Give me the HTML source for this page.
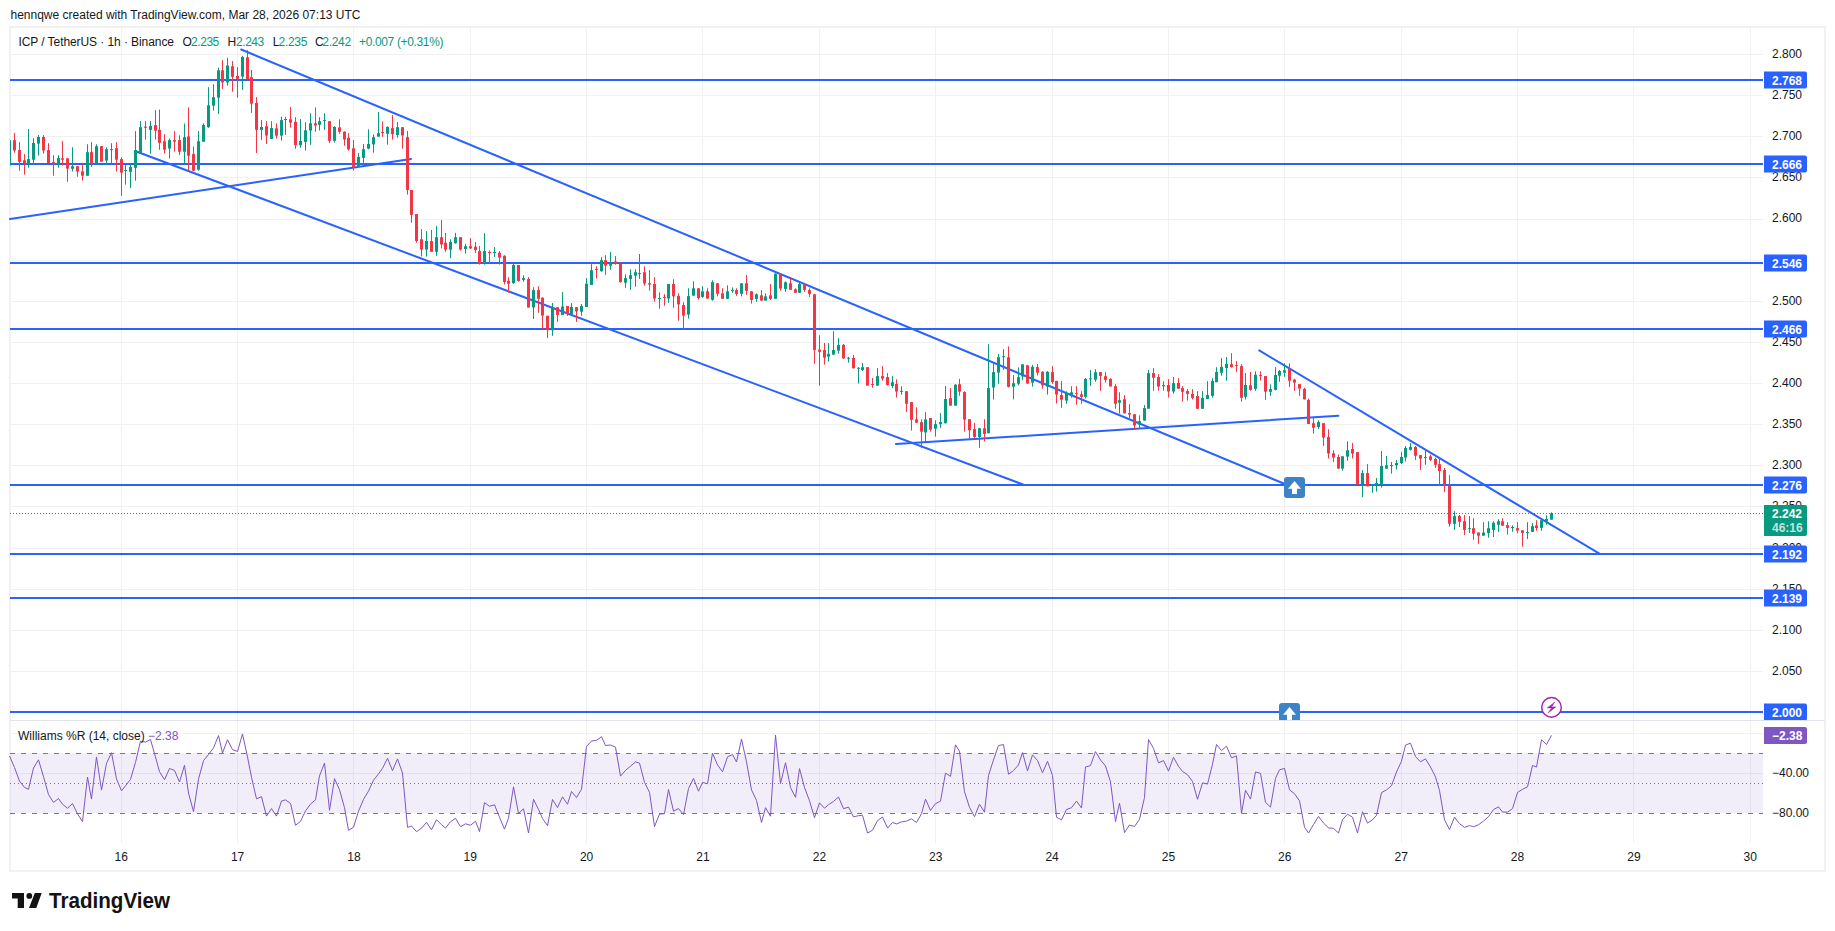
<!DOCTYPE html><html><head><meta charset="utf-8"><style>
html,body{margin:0;padding:0;background:#fff;width:1835px;height:931px;overflow:hidden}
svg{display:block}
text{font-family:'Liberation Sans', sans-serif}
</style></head><body>
<svg width="1835" height="931" viewBox="0 0 1835 931">

<text x="10.5" y="19" font-size="12" fill="#131722">hennqwe created with TradingView.com, Mar 28, 2026 07:13 UTC</text>
<rect x="10" y="27" width="1815" height="844" fill="none" stroke="#f1f1f2" stroke-width="2"/>
<path d="M10 54.5H1763 M10 95.5H1763 M10 136.5H1763 M10 177.5H1763 M10 219.5H1763 M10 260.5H1763 M10 301.5H1763 M10 342.5H1763 M10 383.5H1763 M10 424.5H1763 M10 465.5H1763 M10 506.5H1763 M10 548.5H1763 M10 589.5H1763 M10 630.5H1763 M10 671.5H1763 M10 712.5H1763 M10 733.5H1763 M10 773.5H1763 M121.5 27V843 M237.5 27V843 M353.5 27V843 M470.5 27V843 M586.5 27V843 M702.5 27V843 M819.5 27V843 M935.5 27V843 M1052.5 27V843 M1168.5 27V843 M1284.5 27V843 M1401.5 27V843 M1517.5 27V843 M1633.5 27V843 M1750.5 27V843" stroke="#f0f1f2" stroke-width="1" fill="none"/>
<path d="M10 720.5H1825" stroke="#e0e3eb" stroke-width="1"/>
<text x="1772" y="57.9" font-size="12" fill="#131722">2.800</text><text x="1772" y="99.0" font-size="12" fill="#131722">2.750</text><text x="1772" y="140.2" font-size="12" fill="#131722">2.700</text><text x="1772" y="181.3" font-size="12" fill="#131722">2.650</text><text x="1772" y="222.4" font-size="12" fill="#131722">2.600</text><text x="1772" y="263.6" font-size="12" fill="#131722">2.550</text><text x="1772" y="304.7" font-size="12" fill="#131722">2.500</text><text x="1772" y="345.8" font-size="12" fill="#131722">2.450</text><text x="1772" y="387.0" font-size="12" fill="#131722">2.400</text><text x="1772" y="428.1" font-size="12" fill="#131722">2.350</text><text x="1772" y="469.3" font-size="12" fill="#131722">2.300</text><text x="1772" y="510.4" font-size="12" fill="#131722">2.250</text><text x="1772" y="551.5" font-size="12" fill="#131722">2.200</text><text x="1772" y="592.7" font-size="12" fill="#131722">2.150</text><text x="1772" y="633.8" font-size="12" fill="#131722">2.100</text><text x="1772" y="674.9" font-size="12" fill="#131722">2.050</text>
<path d="M10 80H1763" stroke="#2962ff" stroke-width="2"/>
<path d="M10 164H1763" stroke="#2962ff" stroke-width="2"/>
<path d="M10 263H1763" stroke="#2962ff" stroke-width="2"/>
<path d="M10 329H1763" stroke="#2962ff" stroke-width="2"/>
<path d="M10 485H1763" stroke="#2962ff" stroke-width="2"/>
<path d="M10 554H1763" stroke="#2962ff" stroke-width="2"/>
<path d="M10 598H1763" stroke="#2962ff" stroke-width="2"/>
<path d="M10 712H1763" stroke="#2962ff" stroke-width="2"/>
<path d="M241.2 49.5L1283.7 483.5" stroke="#2962ff" stroke-width="2" stroke-linecap="round"/>
<path d="M135 151L1023 484.5" stroke="#2962ff" stroke-width="2" stroke-linecap="round"/>
<path d="M10 219L411 159" stroke="#2962ff" stroke-width="2" stroke-linecap="round"/>
<path d="M896 444.1L1338.4 415.7" stroke="#2962ff" stroke-width="2" stroke-linecap="round"/>
<path d="M1259.2 350.4L1599 553.4" stroke="#2962ff" stroke-width="2" stroke-linecap="round"/>
<clipPath id="ca"><rect x="10" y="28" width="1753" height="692"/></clipPath><g clip-path="url(#ca)"><rect x="9" y="140.2" width="1" height="25.4" fill="#089981"/><rect x="8" y="140.2" width="3" height="25.4" fill="#089981"/><rect x="14" y="132.9" width="1" height="19.8" fill="#f23645"/><rect x="13" y="140.2" width="3" height="10.3" fill="#f23645"/><rect x="19" y="142.2" width="1" height="28.5" fill="#f23645"/><rect x="18" y="150.1" width="3" height="11.8" fill="#f23645"/><rect x="24" y="154.2" width="1" height="20.4" fill="#f23645"/><rect x="23" y="160.2" width="3" height="2.8" fill="#f23645"/><rect x="28" y="129.0" width="1" height="38.7" fill="#089981"/><rect x="27" y="159.1" width="3" height="4.7" fill="#089981"/><rect x="33" y="138.1" width="1" height="26.6" fill="#089981"/><rect x="32" y="143.0" width="3" height="16.7" fill="#089981"/><rect x="38" y="135.0" width="1" height="20.6" fill="#089981"/><rect x="37" y="137.0" width="3" height="6.6" fill="#089981"/><rect x="43" y="135.0" width="1" height="18.5" fill="#f23645"/><rect x="42" y="137.0" width="3" height="13.5" fill="#f23645"/><rect x="48" y="143.2" width="1" height="19.8" fill="#f23645"/><rect x="47" y="150.1" width="3" height="12.9" fill="#f23645"/><rect x="53" y="155.2" width="1" height="20.5" fill="#f23645"/><rect x="52" y="162.1" width="3" height="2.1" fill="#f23645"/><rect x="58" y="155.2" width="1" height="12.5" fill="#089981"/><rect x="57" y="158.1" width="3" height="6.2" fill="#089981"/><rect x="62" y="141.1" width="1" height="24.5" fill="#f23645"/><rect x="61" y="158.3" width="3" height="1.5" fill="#f23645"/><rect x="67" y="158.3" width="1" height="23.5" fill="#f23645"/><rect x="66" y="158.3" width="3" height="10.3" fill="#f23645"/><rect x="72" y="147.3" width="1" height="24.2" fill="#089981"/><rect x="71" y="166.2" width="3" height="2.6" fill="#089981"/><rect x="77" y="166.2" width="1" height="10.5" fill="#f23645"/><rect x="76" y="166.2" width="3" height="5.3" fill="#f23645"/><rect x="82" y="164.3" width="1" height="16.3" fill="#f23645"/><rect x="81" y="171.4" width="3" height="4.3" fill="#f23645"/><rect x="87" y="144.3" width="1" height="31.4" fill="#089981"/><rect x="86" y="152.2" width="3" height="23.5" fill="#089981"/><rect x="91" y="142.2" width="1" height="24.7" fill="#f23645"/><rect x="90" y="152.2" width="3" height="11.6" fill="#f23645"/><rect x="96" y="144.3" width="1" height="19.9" fill="#089981"/><rect x="95" y="146.2" width="3" height="18.1" fill="#089981"/><rect x="101" y="146.2" width="1" height="15.5" fill="#f23645"/><rect x="100" y="146.2" width="3" height="15.5" fill="#f23645"/><rect x="106" y="147.3" width="1" height="17.4" fill="#089981"/><rect x="105" y="149.2" width="3" height="11.3" fill="#089981"/><rect x="111" y="143.2" width="1" height="20.2" fill="#089981"/><rect x="110" y="149.1" width="3" height="1.0" fill="#089981"/><rect x="116" y="142.2" width="1" height="29.4" fill="#f23645"/><rect x="115" y="148.2" width="3" height="11.5" fill="#f23645"/><rect x="121" y="157.4" width="1" height="38.3" fill="#f23645"/><rect x="120" y="159.1" width="3" height="13.5" fill="#f23645"/><rect x="125" y="164.7" width="1" height="19.9" fill="#089981"/><rect x="124" y="169.9" width="3" height="1.0" fill="#089981"/><rect x="130" y="163.8" width="1" height="24.2" fill="#089981"/><rect x="129" y="167.0" width="3" height="4.8" fill="#089981"/><rect x="135" y="131.1" width="1" height="49.6" fill="#089981"/><rect x="134" y="150.1" width="3" height="17.7" fill="#089981"/><rect x="140" y="121.1" width="1" height="32.6" fill="#089981"/><rect x="139" y="127.2" width="3" height="25.8" fill="#089981"/><rect x="145" y="121.1" width="1" height="18.5" fill="#f23645"/><rect x="144" y="126.7" width="3" height="1.1" fill="#f23645"/><rect x="150" y="121.1" width="1" height="32.6" fill="#089981"/><rect x="149" y="125.9" width="3" height="4.0" fill="#089981"/><rect x="155" y="110.1" width="1" height="29.5" fill="#f23645"/><rect x="154" y="125.1" width="3" height="5.6" fill="#f23645"/><rect x="159" y="109.5" width="1" height="40.3" fill="#f23645"/><rect x="158" y="129.9" width="3" height="12.9" fill="#f23645"/><rect x="164" y="134.3" width="1" height="19.3" fill="#f23645"/><rect x="163" y="141.2" width="3" height="8.5" fill="#f23645"/><rect x="169" y="138.5" width="1" height="20.0" fill="#089981"/><rect x="168" y="140.1" width="3" height="8.4" fill="#089981"/><rect x="174" y="131.1" width="1" height="20.6" fill="#f23645"/><rect x="173" y="140.1" width="3" height="1.6" fill="#f23645"/><rect x="179" y="135.3" width="1" height="19.7" fill="#f23645"/><rect x="178" y="140.1" width="3" height="11.6" fill="#f23645"/><rect x="184" y="123.5" width="1" height="41.1" fill="#089981"/><rect x="183" y="137.2" width="3" height="14.5" fill="#089981"/><rect x="188" y="107.4" width="1" height="62.9" fill="#f23645"/><rect x="187" y="136.4" width="3" height="19.3" fill="#f23645"/><rect x="193" y="146.5" width="1" height="24.8" fill="#f23645"/><rect x="192" y="154.1" width="3" height="16.6" fill="#f23645"/><rect x="198" y="131.1" width="1" height="39.6" fill="#089981"/><rect x="197" y="141.2" width="3" height="28.5" fill="#089981"/><rect x="203" y="123.5" width="1" height="18.2" fill="#089981"/><rect x="202" y="125.1" width="3" height="16.6" fill="#089981"/><rect x="208" y="87.2" width="1" height="40.6" fill="#089981"/><rect x="207" y="105.3" width="3" height="21.9" fill="#089981"/><rect x="213" y="84.3" width="1" height="26.3" fill="#089981"/><rect x="212" y="97.2" width="3" height="8.5" fill="#089981"/><rect x="218" y="67.6" width="1" height="46.3" fill="#089981"/><rect x="217" y="70.3" width="3" height="27.4" fill="#089981"/><rect x="222" y="60.2" width="1" height="28.7" fill="#f23645"/><rect x="221" y="70.3" width="3" height="12.1" fill="#f23645"/><rect x="227" y="57.9" width="1" height="27.7" fill="#089981"/><rect x="226" y="65.5" width="3" height="16.9" fill="#089981"/><rect x="232" y="61.1" width="1" height="30.6" fill="#f23645"/><rect x="231" y="66.3" width="3" height="10.5" fill="#f23645"/><rect x="237" y="67.1" width="1" height="30.6" fill="#f23645"/><rect x="236" y="76.0" width="3" height="2.9" fill="#f23645"/><rect x="242" y="55.9" width="1" height="34.1" fill="#089981"/><rect x="241" y="56.9" width="3" height="19.7" fill="#089981"/><rect x="247" y="50.1" width="1" height="29.7" fill="#f23645"/><rect x="246" y="57.3" width="3" height="21.8" fill="#f23645"/><rect x="251" y="70.0" width="1" height="42.9" fill="#f23645"/><rect x="250" y="77.2" width="3" height="26.5" fill="#f23645"/><rect x="256" y="97.2" width="1" height="55.9" fill="#f23645"/><rect x="255" y="103.0" width="3" height="26.8" fill="#f23645"/><rect x="261" y="120.1" width="1" height="19.9" fill="#089981"/><rect x="260" y="127.0" width="3" height="2.9" fill="#089981"/><rect x="266" y="121.2" width="1" height="22.8" fill="#f23645"/><rect x="265" y="126.2" width="3" height="9.4" fill="#f23645"/><rect x="271" y="121.2" width="1" height="17.8" fill="#089981"/><rect x="270" y="128.0" width="3" height="11.0" fill="#089981"/><rect x="276" y="123.3" width="1" height="15.2" fill="#f23645"/><rect x="275" y="128.4" width="3" height="7.3" fill="#f23645"/><rect x="281" y="116.8" width="1" height="23.9" fill="#089981"/><rect x="280" y="120.1" width="3" height="15.5" fill="#089981"/><rect x="285" y="116.8" width="1" height="18.1" fill="#089981"/><rect x="284" y="119.0" width="3" height="1.0" fill="#089981"/><rect x="290" y="107.1" width="1" height="20.6" fill="#f23645"/><rect x="289" y="119.3" width="3" height="3.3" fill="#f23645"/><rect x="295" y="117.2" width="1" height="31.5" fill="#f23645"/><rect x="294" y="121.9" width="3" height="23.2" fill="#f23645"/><rect x="300" y="119.0" width="1" height="28.7" fill="#089981"/><rect x="299" y="141.0" width="3" height="4.1" fill="#089981"/><rect x="305" y="122.2" width="1" height="28.4" fill="#089981"/><rect x="304" y="130.3" width="3" height="11.6" fill="#089981"/><rect x="310" y="113.2" width="1" height="31.6" fill="#089981"/><rect x="309" y="123.3" width="3" height="7.3" fill="#089981"/><rect x="315" y="107.4" width="1" height="24.4" fill="#f23645"/><rect x="314" y="123.3" width="3" height="2.2" fill="#f23645"/><rect x="319" y="117.2" width="1" height="13.3" fill="#089981"/><rect x="318" y="121.2" width="3" height="3.6" fill="#089981"/><rect x="324" y="113.2" width="1" height="16.7" fill="#089981"/><rect x="323" y="120.1" width="3" height="1.0" fill="#089981"/><rect x="329" y="121.2" width="1" height="21.8" fill="#f23645"/><rect x="328" y="121.2" width="3" height="19.6" fill="#f23645"/><rect x="334" y="126.2" width="1" height="16.2" fill="#089981"/><rect x="333" y="127.0" width="3" height="13.8" fill="#089981"/><rect x="339" y="119.3" width="1" height="14.5" fill="#f23645"/><rect x="338" y="127.4" width="3" height="4.4" fill="#f23645"/><rect x="344" y="131.3" width="1" height="14.5" fill="#f23645"/><rect x="343" y="131.7" width="3" height="7.8" fill="#f23645"/><rect x="348" y="133.2" width="1" height="17.4" fill="#f23645"/><rect x="347" y="137.8" width="3" height="11.6" fill="#f23645"/><rect x="353" y="140.0" width="1" height="30.5" fill="#f23645"/><rect x="352" y="148.3" width="3" height="18.6" fill="#f23645"/><rect x="358" y="153.0" width="1" height="13.8" fill="#089981"/><rect x="357" y="156.8" width="3" height="10.0" fill="#089981"/><rect x="363" y="144.0" width="1" height="21.0" fill="#089981"/><rect x="362" y="149.2" width="3" height="8.6" fill="#089981"/><rect x="368" y="129.3" width="1" height="19.9" fill="#089981"/><rect x="367" y="144.0" width="3" height="4.6" fill="#089981"/><rect x="373" y="134.4" width="1" height="18.2" fill="#089981"/><rect x="372" y="137.2" width="3" height="7.2" fill="#089981"/><rect x="378" y="112.1" width="1" height="24.6" fill="#089981"/><rect x="377" y="133.2" width="3" height="3.4" fill="#089981"/><rect x="382" y="121.2" width="1" height="15.5" fill="#f23645"/><rect x="381" y="132.0" width="3" height="1.0" fill="#f23645"/><rect x="387" y="126.3" width="1" height="18.4" fill="#089981"/><rect x="386" y="126.9" width="3" height="6.9" fill="#089981"/><rect x="392" y="115.2" width="1" height="24.4" fill="#f23645"/><rect x="391" y="128.1" width="3" height="6.0" fill="#f23645"/><rect x="397" y="122.0" width="1" height="15.8" fill="#089981"/><rect x="396" y="127.2" width="3" height="7.7" fill="#089981"/><rect x="402" y="127.2" width="1" height="21.5" fill="#f23645"/><rect x="401" y="127.2" width="3" height="8.3" fill="#f23645"/><rect x="407" y="131.0" width="1" height="63.6" fill="#f23645"/><rect x="406" y="137.2" width="3" height="52.8" fill="#f23645"/><rect x="411" y="190.0" width="1" height="32.7" fill="#f23645"/><rect x="410" y="190.0" width="3" height="24.9" fill="#f23645"/><rect x="416" y="214.0" width="1" height="28.7" fill="#f23645"/><rect x="415" y="214.0" width="3" height="27.0" fill="#f23645"/><rect x="421" y="229.0" width="1" height="27.5" fill="#f23645"/><rect x="420" y="239.3" width="3" height="10.3" fill="#f23645"/><rect x="426" y="231.2" width="1" height="25.3" fill="#089981"/><rect x="425" y="241.0" width="3" height="8.6" fill="#089981"/><rect x="431" y="230.0" width="1" height="21.8" fill="#f23645"/><rect x="430" y="241.0" width="3" height="10.8" fill="#f23645"/><rect x="436" y="226.1" width="1" height="29.7" fill="#089981"/><rect x="435" y="237.2" width="3" height="14.6" fill="#089981"/><rect x="441" y="220.0" width="1" height="28.4" fill="#f23645"/><rect x="440" y="237.2" width="3" height="7.2" fill="#f23645"/><rect x="445" y="232.9" width="1" height="18.9" fill="#f23645"/><rect x="444" y="242.7" width="3" height="6.9" fill="#f23645"/><rect x="450" y="239.3" width="1" height="18.9" fill="#089981"/><rect x="449" y="242.0" width="3" height="7.6" fill="#089981"/><rect x="455" y="232.9" width="1" height="10.8" fill="#089981"/><rect x="454" y="237.2" width="3" height="6.0" fill="#089981"/><rect x="460" y="237.2" width="1" height="13.4" fill="#f23645"/><rect x="459" y="237.2" width="3" height="12.4" fill="#f23645"/><rect x="465" y="243.8" width="1" height="9.8" fill="#089981"/><rect x="464" y="246.2" width="3" height="2.8" fill="#089981"/><rect x="470" y="238.1" width="1" height="10.8" fill="#f23645"/><rect x="469" y="246.2" width="3" height="2.2" fill="#f23645"/><rect x="475" y="242.0" width="1" height="11.0" fill="#f23645"/><rect x="474" y="246.7" width="3" height="3.4" fill="#f23645"/><rect x="479" y="246.0" width="1" height="18.6" fill="#f23645"/><rect x="478" y="251.0" width="3" height="12.8" fill="#f23645"/><rect x="484" y="233.2" width="1" height="31.4" fill="#089981"/><rect x="483" y="251.0" width="3" height="12.8" fill="#089981"/><rect x="489" y="250.2" width="1" height="13.4" fill="#f23645"/><rect x="488" y="252.0" width="3" height="1.0" fill="#f23645"/><rect x="494" y="247.1" width="1" height="9.8" fill="#089981"/><rect x="493" y="252.0" width="3" height="1.0" fill="#089981"/><rect x="499" y="251.0" width="1" height="13.5" fill="#f23645"/><rect x="498" y="252.7" width="3" height="4.9" fill="#f23645"/><rect x="504" y="255.2" width="1" height="29.3" fill="#f23645"/><rect x="503" y="255.8" width="3" height="26.3" fill="#f23645"/><rect x="508" y="277.2" width="1" height="15.4" fill="#f23645"/><rect x="507" y="280.9" width="3" height="2.8" fill="#f23645"/><rect x="513" y="263.2" width="1" height="20.5" fill="#089981"/><rect x="512" y="265.0" width="3" height="18.2" fill="#089981"/><rect x="518" y="265.0" width="1" height="16.8" fill="#f23645"/><rect x="517" y="265.0" width="3" height="15.9" fill="#f23645"/><rect x="523" y="275.3" width="1" height="6.4" fill="#089981"/><rect x="522" y="278.1" width="3" height="1.8" fill="#089981"/><rect x="528" y="277.2" width="1" height="30.3" fill="#f23645"/><rect x="527" y="279.0" width="3" height="28.5" fill="#f23645"/><rect x="533" y="287.3" width="1" height="31.7" fill="#089981"/><rect x="532" y="290.1" width="3" height="17.3" fill="#089981"/><rect x="538" y="286.2" width="1" height="26.5" fill="#f23645"/><rect x="537" y="290.1" width="3" height="8.7" fill="#f23645"/><rect x="542" y="297.4" width="1" height="32.1" fill="#f23645"/><rect x="541" y="297.7" width="3" height="17.9" fill="#f23645"/><rect x="547" y="315.8" width="1" height="22.1" fill="#f23645"/><rect x="546" y="315.8" width="3" height="14.4" fill="#f23645"/><rect x="552" y="303.0" width="1" height="32.8" fill="#089981"/><rect x="551" y="307.5" width="3" height="22.8" fill="#089981"/><rect x="557" y="307.2" width="1" height="14.7" fill="#f23645"/><rect x="556" y="307.2" width="3" height="7.7" fill="#f23645"/><rect x="562" y="292.1" width="1" height="22.8" fill="#089981"/><rect x="561" y="306.5" width="3" height="8.4" fill="#089981"/><rect x="567" y="306.1" width="1" height="9.8" fill="#f23645"/><rect x="566" y="306.1" width="3" height="8.1" fill="#f23645"/><rect x="571" y="303.0" width="1" height="11.2" fill="#089981"/><rect x="570" y="306.9" width="3" height="7.3" fill="#089981"/><rect x="576" y="307.2" width="1" height="14.7" fill="#f23645"/><rect x="575" y="307.2" width="3" height="4.2" fill="#f23645"/><rect x="581" y="304.1" width="1" height="11.7" fill="#089981"/><rect x="580" y="306.1" width="3" height="5.6" fill="#089981"/><rect x="586" y="278.1" width="1" height="28.8" fill="#089981"/><rect x="585" y="283.7" width="3" height="23.2" fill="#089981"/><rect x="591" y="264.2" width="1" height="20.7" fill="#089981"/><rect x="590" y="270.2" width="3" height="14.7" fill="#089981"/><rect x="596" y="266.3" width="1" height="12.3" fill="#f23645"/><rect x="595" y="269.0" width="3" height="1.0" fill="#f23645"/><rect x="601" y="257.2" width="1" height="14.5" fill="#089981"/><rect x="600" y="260.2" width="3" height="11.0" fill="#089981"/><rect x="605" y="255.2" width="1" height="19.7" fill="#f23645"/><rect x="604" y="260.2" width="3" height="5.4" fill="#f23645"/><rect x="610" y="252.0" width="1" height="17.8" fill="#089981"/><rect x="609" y="262.3" width="3" height="3.4" fill="#089981"/><rect x="615" y="256.1" width="1" height="8.6" fill="#f23645"/><rect x="614" y="261.5" width="3" height="2.4" fill="#f23645"/><rect x="620" y="262.3" width="1" height="20.4" fill="#f23645"/><rect x="619" y="263.8" width="3" height="18.3" fill="#f23645"/><rect x="625" y="274.4" width="1" height="13.4" fill="#089981"/><rect x="624" y="278.1" width="3" height="4.6" fill="#089981"/><rect x="630" y="269.2" width="1" height="20.7" fill="#089981"/><rect x="629" y="275.2" width="3" height="3.7" fill="#089981"/><rect x="635" y="269.2" width="1" height="17.5" fill="#089981"/><rect x="634" y="272.2" width="3" height="3.4" fill="#089981"/><rect x="639" y="254.0" width="1" height="24.9" fill="#089981"/><rect x="638" y="273.1" width="3" height="1.0" fill="#089981"/><rect x="644" y="266.3" width="1" height="19.3" fill="#f23645"/><rect x="643" y="272.2" width="3" height="11.3" fill="#f23645"/><rect x="649" y="270.1" width="1" height="20.6" fill="#f23645"/><rect x="648" y="283.2" width="3" height="1.4" fill="#f23645"/><rect x="654" y="277.0" width="1" height="24.7" fill="#f23645"/><rect x="653" y="284.0" width="3" height="14.5" fill="#f23645"/><rect x="659" y="292.4" width="1" height="16.3" fill="#089981"/><rect x="658" y="298.0" width="3" height="1.0" fill="#089981"/><rect x="664" y="294.2" width="1" height="11.5" fill="#f23645"/><rect x="663" y="296.9" width="3" height="1.0" fill="#f23645"/><rect x="668" y="284.0" width="1" height="18.8" fill="#089981"/><rect x="667" y="284.0" width="3" height="14.5" fill="#089981"/><rect x="673" y="279.2" width="1" height="28.5" fill="#f23645"/><rect x="672" y="284.0" width="3" height="12.3" fill="#f23645"/><rect x="678" y="293.2" width="1" height="27.6" fill="#f23645"/><rect x="677" y="295.8" width="3" height="8.6" fill="#f23645"/><rect x="683" y="302.3" width="1" height="27.4" fill="#f23645"/><rect x="682" y="305.0" width="3" height="10.7" fill="#f23645"/><rect x="688" y="288.3" width="1" height="30.3" fill="#089981"/><rect x="687" y="296.1" width="3" height="18.6" fill="#089981"/><rect x="693" y="281.3" width="1" height="14.5" fill="#089981"/><rect x="692" y="288.3" width="3" height="7.3" fill="#089981"/><rect x="698" y="288.3" width="1" height="11.3" fill="#f23645"/><rect x="697" y="288.3" width="3" height="9.7" fill="#f23645"/><rect x="702" y="286.2" width="1" height="11.6" fill="#089981"/><rect x="701" y="291.3" width="3" height="5.6" fill="#089981"/><rect x="707" y="288.3" width="1" height="10.5" fill="#f23645"/><rect x="706" y="291.3" width="3" height="7.2" fill="#f23645"/><rect x="712" y="280.3" width="1" height="20.4" fill="#089981"/><rect x="711" y="282.1" width="3" height="17.8" fill="#089981"/><rect x="717" y="282.9" width="1" height="13.5" fill="#f23645"/><rect x="716" y="283.3" width="3" height="10.5" fill="#f23645"/><rect x="722" y="288.3" width="1" height="10.5" fill="#f23645"/><rect x="721" y="293.4" width="3" height="5.4" fill="#f23645"/><rect x="727" y="285.3" width="1" height="13.5" fill="#089981"/><rect x="726" y="291.3" width="3" height="7.5" fill="#089981"/><rect x="732" y="287.4" width="1" height="5.4" fill="#089981"/><rect x="731" y="290.1" width="3" height="1.0" fill="#089981"/><rect x="736" y="288.3" width="1" height="7.5" fill="#f23645"/><rect x="735" y="290.1" width="3" height="3.8" fill="#f23645"/><rect x="741" y="283.3" width="1" height="13.1" fill="#089981"/><rect x="740" y="283.3" width="3" height="10.5" fill="#089981"/><rect x="746" y="275.0" width="1" height="19.8" fill="#f23645"/><rect x="745" y="283.3" width="3" height="7.5" fill="#f23645"/><rect x="751" y="291.3" width="1" height="12.3" fill="#f23645"/><rect x="750" y="291.3" width="3" height="8.6" fill="#f23645"/><rect x="756" y="293.4" width="1" height="8.4" fill="#089981"/><rect x="755" y="294.3" width="3" height="4.5" fill="#089981"/><rect x="761" y="290.1" width="1" height="10.8" fill="#f23645"/><rect x="760" y="295.3" width="3" height="5.3" fill="#f23645"/><rect x="765" y="293.4" width="1" height="7.2" fill="#089981"/><rect x="764" y="296.4" width="3" height="4.2" fill="#089981"/><rect x="770" y="284.1" width="1" height="15.8" fill="#f23645"/><rect x="769" y="295.3" width="3" height="3.5" fill="#f23645"/><rect x="775" y="273.2" width="1" height="25.6" fill="#089981"/><rect x="774" y="273.8" width="3" height="25.0" fill="#089981"/><rect x="780" y="273.8" width="1" height="17.0" fill="#f23645"/><rect x="779" y="274.7" width="3" height="13.8" fill="#f23645"/><rect x="785" y="281.4" width="1" height="10.5" fill="#089981"/><rect x="784" y="282.3" width="3" height="6.6" fill="#089981"/><rect x="790" y="278.0" width="1" height="11.7" fill="#f23645"/><rect x="789" y="283.3" width="3" height="6.5" fill="#f23645"/><rect x="795" y="288.3" width="1" height="4.5" fill="#f23645"/><rect x="794" y="289.3" width="3" height="3.5" fill="#f23645"/><rect x="799" y="282.6" width="1" height="10.2" fill="#089981"/><rect x="798" y="284.1" width="3" height="8.7" fill="#089981"/><rect x="804" y="282.9" width="1" height="9.0" fill="#f23645"/><rect x="803" y="283.8" width="3" height="6.0" fill="#f23645"/><rect x="809" y="288.3" width="1" height="8.6" fill="#f23645"/><rect x="808" y="290.1" width="3" height="3.8" fill="#f23645"/><rect x="814" y="293.8" width="1" height="69.9" fill="#f23645"/><rect x="813" y="294.3" width="3" height="55.6" fill="#f23645"/><rect x="819" y="335.2" width="1" height="50.4" fill="#f23645"/><rect x="818" y="349.5" width="3" height="2.3" fill="#f23645"/><rect x="824" y="343.0" width="1" height="21.6" fill="#f23645"/><rect x="823" y="350.0" width="3" height="7.7" fill="#f23645"/><rect x="828" y="343.0" width="1" height="18.6" fill="#089981"/><rect x="827" y="353.8" width="3" height="2.8" fill="#089981"/><rect x="833" y="331.2" width="1" height="23.5" fill="#089981"/><rect x="832" y="350.0" width="3" height="4.6" fill="#089981"/><rect x="838" y="338.2" width="1" height="15.4" fill="#089981"/><rect x="837" y="345.1" width="3" height="5.6" fill="#089981"/><rect x="843" y="344.0" width="1" height="14.8" fill="#f23645"/><rect x="842" y="344.9" width="3" height="13.5" fill="#f23645"/><rect x="848" y="357.0" width="1" height="5.6" fill="#089981"/><rect x="847" y="357.7" width="3" height="1.0" fill="#089981"/><rect x="853" y="354.9" width="1" height="13.7" fill="#f23645"/><rect x="852" y="358.0" width="3" height="10.2" fill="#f23645"/><rect x="858" y="367.2" width="1" height="16.3" fill="#089981"/><rect x="857" y="367.8" width="3" height="1.0" fill="#089981"/><rect x="862" y="363.0" width="1" height="8.0" fill="#089981"/><rect x="861" y="367.2" width="3" height="2.8" fill="#089981"/><rect x="867" y="367.2" width="1" height="18.4" fill="#f23645"/><rect x="866" y="367.2" width="3" height="18.4" fill="#f23645"/><rect x="872" y="378.0" width="1" height="9.8" fill="#f23645"/><rect x="871" y="384.0" width="3" height="1.0" fill="#f23645"/><rect x="877" y="368.2" width="1" height="17.5" fill="#089981"/><rect x="876" y="376.1" width="3" height="9.5" fill="#089981"/><rect x="882" y="366.1" width="1" height="14.7" fill="#f23645"/><rect x="881" y="376.1" width="3" height="2.5" fill="#f23645"/><rect x="887" y="373.1" width="1" height="12.6" fill="#f23645"/><rect x="886" y="377.0" width="3" height="8.0" fill="#f23645"/><rect x="892" y="376.1" width="1" height="12.0" fill="#089981"/><rect x="891" y="382.2" width="3" height="3.8" fill="#089981"/><rect x="896" y="379.4" width="1" height="18.2" fill="#f23645"/><rect x="895" y="384.0" width="3" height="7.5" fill="#f23645"/><rect x="901" y="386.3" width="1" height="8.4" fill="#089981"/><rect x="900" y="390.9" width="3" height="1.0" fill="#089981"/><rect x="906" y="391.2" width="1" height="20.7" fill="#f23645"/><rect x="905" y="391.2" width="3" height="12.6" fill="#f23645"/><rect x="911" y="402.1" width="1" height="28.5" fill="#f23645"/><rect x="910" y="402.1" width="3" height="17.7" fill="#f23645"/><rect x="916" y="407.3" width="1" height="15.8" fill="#f23645"/><rect x="915" y="419.4" width="3" height="3.2" fill="#f23645"/><rect x="921" y="419.4" width="1" height="28.8" fill="#f23645"/><rect x="920" y="422.2" width="3" height="9.5" fill="#f23645"/><rect x="925" y="412.2" width="1" height="30.4" fill="#089981"/><rect x="924" y="419.4" width="3" height="13.0" fill="#089981"/><rect x="930" y="418.0" width="1" height="13.7" fill="#f23645"/><rect x="929" y="418.0" width="3" height="11.6" fill="#f23645"/><rect x="935" y="420.3" width="1" height="16.3" fill="#089981"/><rect x="934" y="424.1" width="3" height="4.6" fill="#089981"/><rect x="940" y="413.1" width="1" height="14.8" fill="#089981"/><rect x="939" y="422.1" width="3" height="2.1" fill="#089981"/><rect x="945" y="385.9" width="1" height="37.4" fill="#089981"/><rect x="944" y="399.0" width="3" height="24.3" fill="#089981"/><rect x="950" y="388.1" width="1" height="17.5" fill="#f23645"/><rect x="949" y="398.2" width="3" height="7.4" fill="#f23645"/><rect x="955" y="384.2" width="1" height="21.5" fill="#089981"/><rect x="954" y="384.7" width="3" height="21.0" fill="#089981"/><rect x="959" y="378.8" width="1" height="16.9" fill="#f23645"/><rect x="958" y="384.2" width="3" height="7.4" fill="#f23645"/><rect x="964" y="391.2" width="1" height="40.4" fill="#f23645"/><rect x="963" y="392.1" width="3" height="27.5" fill="#f23645"/><rect x="969" y="419.2" width="1" height="19.5" fill="#f23645"/><rect x="968" y="419.2" width="3" height="11.1" fill="#f23645"/><rect x="974" y="422.9" width="1" height="15.8" fill="#f23645"/><rect x="973" y="429.1" width="3" height="7.8" fill="#f23645"/><rect x="979" y="427.9" width="1" height="19.8" fill="#089981"/><rect x="978" y="428.3" width="3" height="8.6" fill="#089981"/><rect x="984" y="419.2" width="1" height="22.2" fill="#f23645"/><rect x="983" y="428.3" width="3" height="5.6" fill="#f23645"/><rect x="988" y="344.3" width="1" height="88.9" fill="#089981"/><rect x="987" y="388.1" width="3" height="45.1" fill="#089981"/><rect x="993" y="363.2" width="1" height="36.3" fill="#089981"/><rect x="992" y="372.1" width="3" height="15.4" fill="#089981"/><rect x="998" y="354.1" width="1" height="29.6" fill="#089981"/><rect x="997" y="357.2" width="3" height="15.4" fill="#089981"/><rect x="1003" y="349.2" width="1" height="20.6" fill="#089981"/><rect x="1002" y="356.2" width="3" height="1.0" fill="#089981"/><rect x="1008" y="346.4" width="1" height="41.1" fill="#f23645"/><rect x="1007" y="357.2" width="3" height="29.6" fill="#f23645"/><rect x="1013" y="375.1" width="1" height="24.3" fill="#089981"/><rect x="1012" y="383.2" width="3" height="3.5" fill="#089981"/><rect x="1018" y="367.4" width="1" height="18.0" fill="#089981"/><rect x="1017" y="377.2" width="3" height="6.5" fill="#089981"/><rect x="1022" y="364.0" width="1" height="16.1" fill="#089981"/><rect x="1021" y="364.4" width="3" height="12.0" fill="#089981"/><rect x="1027" y="364.9" width="1" height="18.9" fill="#f23645"/><rect x="1026" y="365.3" width="3" height="18.2" fill="#f23645"/><rect x="1032" y="364.9" width="1" height="21.7" fill="#089981"/><rect x="1031" y="366.9" width="3" height="15.7" fill="#089981"/><rect x="1037" y="364.0" width="1" height="11.5" fill="#f23645"/><rect x="1036" y="367.1" width="3" height="5.6" fill="#f23645"/><rect x="1042" y="371.1" width="1" height="17.7" fill="#f23645"/><rect x="1041" y="371.8" width="3" height="13.6" fill="#f23645"/><rect x="1047" y="371.1" width="1" height="23.5" fill="#089981"/><rect x="1046" y="371.8" width="3" height="14.8" fill="#089981"/><rect x="1052" y="366.1" width="1" height="17.7" fill="#f23645"/><rect x="1051" y="372.1" width="3" height="9.9" fill="#f23645"/><rect x="1056" y="380.9" width="1" height="22.6" fill="#f23645"/><rect x="1055" y="380.9" width="3" height="13.6" fill="#f23645"/><rect x="1061" y="381.0" width="1" height="26.8" fill="#f23645"/><rect x="1060" y="395.0" width="3" height="4.7" fill="#f23645"/><rect x="1066" y="391.3" width="1" height="12.5" fill="#089981"/><rect x="1065" y="393.3" width="3" height="7.3" fill="#089981"/><rect x="1071" y="386.2" width="1" height="11.5" fill="#089981"/><rect x="1070" y="392.3" width="3" height="2.9" fill="#089981"/><rect x="1076" y="386.2" width="1" height="18.5" fill="#f23645"/><rect x="1075" y="393.2" width="3" height="1.0" fill="#f23645"/><rect x="1081" y="391.3" width="1" height="12.5" fill="#f23645"/><rect x="1080" y="394.3" width="3" height="2.6" fill="#f23645"/><rect x="1085" y="378.0" width="1" height="20.6" fill="#089981"/><rect x="1084" y="378.9" width="3" height="17.9" fill="#089981"/><rect x="1090" y="370.1" width="1" height="15.8" fill="#089981"/><rect x="1089" y="378.3" width="3" height="1.0" fill="#089981"/><rect x="1095" y="369.2" width="1" height="12.5" fill="#089981"/><rect x="1094" y="372.2" width="3" height="7.5" fill="#089981"/><rect x="1100" y="372.2" width="1" height="18.6" fill="#f23645"/><rect x="1099" y="372.2" width="3" height="3.7" fill="#f23645"/><rect x="1105" y="372.2" width="1" height="10.4" fill="#f23645"/><rect x="1104" y="376.2" width="3" height="3.7" fill="#f23645"/><rect x="1110" y="378.3" width="1" height="8.2" fill="#f23645"/><rect x="1109" y="378.9" width="3" height="7.6" fill="#f23645"/><rect x="1115" y="384.2" width="1" height="24.5" fill="#f23645"/><rect x="1114" y="386.2" width="3" height="17.6" fill="#f23645"/><rect x="1119" y="392.3" width="1" height="21.2" fill="#089981"/><rect x="1118" y="400.2" width="3" height="2.5" fill="#089981"/><rect x="1124" y="395.2" width="1" height="18.3" fill="#f23645"/><rect x="1123" y="399.3" width="3" height="14.0" fill="#f23645"/><rect x="1129" y="404.3" width="1" height="14.2" fill="#f23645"/><rect x="1128" y="413.0" width="3" height="1.6" fill="#f23645"/><rect x="1134" y="414.2" width="1" height="15.2" fill="#f23645"/><rect x="1133" y="414.2" width="3" height="11.3" fill="#f23645"/><rect x="1139" y="415.3" width="1" height="12.3" fill="#089981"/><rect x="1138" y="421.2" width="3" height="3.4" fill="#089981"/><rect x="1144" y="405.0" width="1" height="15.5" fill="#089981"/><rect x="1143" y="408.0" width="3" height="12.6" fill="#089981"/><rect x="1148" y="370.1" width="1" height="38.6" fill="#089981"/><rect x="1147" y="373.1" width="3" height="35.6" fill="#089981"/><rect x="1153" y="368.2" width="1" height="22.6" fill="#f23645"/><rect x="1152" y="373.1" width="3" height="4.6" fill="#f23645"/><rect x="1158" y="374.2" width="1" height="16.4" fill="#f23645"/><rect x="1157" y="377.1" width="3" height="9.4" fill="#f23645"/><rect x="1163" y="381.3" width="1" height="9.3" fill="#089981"/><rect x="1162" y="385.1" width="3" height="1.1" fill="#089981"/><rect x="1168" y="379.2" width="1" height="18.3" fill="#f23645"/><rect x="1167" y="385.1" width="3" height="6.4" fill="#f23645"/><rect x="1173" y="377.1" width="1" height="16.7" fill="#089981"/><rect x="1172" y="383.1" width="3" height="8.4" fill="#089981"/><rect x="1178" y="378.2" width="1" height="10.5" fill="#f23645"/><rect x="1177" y="383.0" width="3" height="5.7" fill="#f23645"/><rect x="1182" y="386.0" width="1" height="15.6" fill="#f23645"/><rect x="1181" y="388.1" width="3" height="3.7" fill="#f23645"/><rect x="1187" y="389.1" width="1" height="11.5" fill="#f23645"/><rect x="1186" y="391.1" width="3" height="2.7" fill="#f23645"/><rect x="1192" y="389.1" width="1" height="10.5" fill="#f23645"/><rect x="1191" y="394.0" width="3" height="3.9" fill="#f23645"/><rect x="1197" y="391.1" width="1" height="17.7" fill="#f23645"/><rect x="1196" y="396.0" width="3" height="12.8" fill="#f23645"/><rect x="1202" y="391.1" width="1" height="17.7" fill="#089981"/><rect x="1201" y="397.9" width="3" height="10.9" fill="#089981"/><rect x="1207" y="381.2" width="1" height="17.7" fill="#089981"/><rect x="1206" y="395.0" width="3" height="3.9" fill="#089981"/><rect x="1212" y="378.2" width="1" height="19.4" fill="#089981"/><rect x="1211" y="380.9" width="3" height="14.9" fill="#089981"/><rect x="1216" y="367.2" width="1" height="15.0" fill="#089981"/><rect x="1215" y="372.0" width="3" height="10.2" fill="#089981"/><rect x="1221" y="358.1" width="1" height="17.6" fill="#089981"/><rect x="1220" y="366.9" width="3" height="5.8" fill="#089981"/><rect x="1226" y="357.0" width="1" height="23.7" fill="#089981"/><rect x="1225" y="363.9" width="3" height="4.1" fill="#089981"/><rect x="1231" y="353.2" width="1" height="14.5" fill="#f23645"/><rect x="1230" y="364.2" width="3" height="2.8" fill="#f23645"/><rect x="1236" y="361.1" width="1" height="10.6" fill="#f23645"/><rect x="1235" y="365.2" width="3" height="1.0" fill="#f23645"/><rect x="1241" y="364.2" width="1" height="37.4" fill="#f23645"/><rect x="1240" y="366.2" width="3" height="31.6" fill="#f23645"/><rect x="1245" y="373.1" width="1" height="26.5" fill="#089981"/><rect x="1244" y="385.0" width="3" height="11.8" fill="#089981"/><rect x="1250" y="372.0" width="1" height="18.7" fill="#f23645"/><rect x="1249" y="385.3" width="3" height="4.6" fill="#f23645"/><rect x="1255" y="371.3" width="1" height="19.4" fill="#089981"/><rect x="1254" y="374.8" width="3" height="14.1" fill="#089981"/><rect x="1260" y="371.3" width="1" height="9.4" fill="#f23645"/><rect x="1259" y="375.1" width="3" height="1.0" fill="#f23645"/><rect x="1265" y="376.1" width="1" height="23.8" fill="#f23645"/><rect x="1264" y="376.1" width="3" height="15.6" fill="#f23645"/><rect x="1270" y="384.3" width="1" height="11.5" fill="#089981"/><rect x="1269" y="389.1" width="3" height="2.7" fill="#089981"/><rect x="1275" y="367.2" width="1" height="23.2" fill="#089981"/><rect x="1274" y="375.1" width="3" height="14.8" fill="#089981"/><rect x="1279" y="370.0" width="1" height="11.7" fill="#089981"/><rect x="1278" y="371.0" width="3" height="4.6" fill="#089981"/><rect x="1284" y="363.2" width="1" height="13.7" fill="#089981"/><rect x="1283" y="370.3" width="3" height="2.4" fill="#089981"/><rect x="1289" y="363.2" width="1" height="23.7" fill="#f23645"/><rect x="1288" y="368.7" width="3" height="12.0" fill="#f23645"/><rect x="1294" y="378.8" width="1" height="12.0" fill="#f23645"/><rect x="1293" y="379.6" width="3" height="3.0" fill="#f23645"/><rect x="1299" y="384.1" width="1" height="11.7" fill="#f23645"/><rect x="1298" y="384.1" width="3" height="4.5" fill="#f23645"/><rect x="1304" y="387.8" width="1" height="11.6" fill="#f23645"/><rect x="1303" y="388.9" width="3" height="10.5" fill="#f23645"/><rect x="1308" y="398.4" width="1" height="25.6" fill="#f23645"/><rect x="1307" y="399.9" width="3" height="24.1" fill="#f23645"/><rect x="1313" y="417.2" width="1" height="16.5" fill="#f23645"/><rect x="1312" y="423.2" width="3" height="4.5" fill="#f23645"/><rect x="1318" y="420.2" width="1" height="8.7" fill="#089981"/><rect x="1317" y="422.0" width="3" height="5.0" fill="#089981"/><rect x="1323" y="423.2" width="1" height="22.6" fill="#f23645"/><rect x="1322" y="423.2" width="3" height="14.3" fill="#f23645"/><rect x="1328" y="429.2" width="1" height="29.3" fill="#f23645"/><rect x="1327" y="437.0" width="3" height="16.5" fill="#f23645"/><rect x="1333" y="450.3" width="1" height="11.7" fill="#f23645"/><rect x="1332" y="453.3" width="3" height="4.2" fill="#f23645"/><rect x="1338" y="454.5" width="1" height="14.1" fill="#f23645"/><rect x="1337" y="457.0" width="3" height="11.6" fill="#f23645"/><rect x="1342" y="456.3" width="1" height="14.3" fill="#089981"/><rect x="1341" y="456.3" width="3" height="12.3" fill="#089981"/><rect x="1347" y="441.2" width="1" height="19.6" fill="#089981"/><rect x="1346" y="450.3" width="3" height="6.3" fill="#089981"/><rect x="1352" y="443.0" width="1" height="15.5" fill="#f23645"/><rect x="1351" y="449.0" width="3" height="4.5" fill="#f23645"/><rect x="1357" y="452.1" width="1" height="32.5" fill="#f23645"/><rect x="1356" y="452.1" width="3" height="32.5" fill="#f23645"/><rect x="1362" y="470.1" width="1" height="27.1" fill="#089981"/><rect x="1361" y="473.1" width="3" height="11.4" fill="#089981"/><rect x="1367" y="464.1" width="1" height="22.3" fill="#f23645"/><rect x="1366" y="473.1" width="3" height="13.2" fill="#f23645"/><rect x="1372" y="484.1" width="1" height="8.6" fill="#089981"/><rect x="1371" y="484.1" width="3" height="1.1" fill="#089981"/><rect x="1376" y="478.1" width="1" height="13.5" fill="#089981"/><rect x="1375" y="483.0" width="3" height="1.5" fill="#089981"/><rect x="1381" y="451.0" width="1" height="36.6" fill="#089981"/><rect x="1380" y="466.0" width="3" height="18.8" fill="#089981"/><rect x="1386" y="456.0" width="1" height="12.6" fill="#089981"/><rect x="1385" y="465.3" width="3" height="3.3" fill="#089981"/><rect x="1391" y="462.0" width="1" height="11.6" fill="#089981"/><rect x="1390" y="465.0" width="3" height="1.1" fill="#089981"/><rect x="1396" y="460.0" width="1" height="9.5" fill="#089981"/><rect x="1395" y="463.0" width="3" height="2.3" fill="#089981"/><rect x="1401" y="452.1" width="1" height="12.0" fill="#089981"/><rect x="1400" y="457.0" width="3" height="6.0" fill="#089981"/><rect x="1405" y="446.0" width="1" height="15.5" fill="#089981"/><rect x="1404" y="448.0" width="3" height="9.5" fill="#089981"/><rect x="1410" y="443.0" width="1" height="7.5" fill="#089981"/><rect x="1409" y="446.9" width="3" height="3.0" fill="#089981"/><rect x="1415" y="446.1" width="1" height="13.8" fill="#f23645"/><rect x="1414" y="447.0" width="3" height="8.8" fill="#f23645"/><rect x="1420" y="455.1" width="1" height="14.8" fill="#f23645"/><rect x="1419" y="455.1" width="3" height="3.5" fill="#f23645"/><rect x="1425" y="449.1" width="1" height="15.7" fill="#089981"/><rect x="1424" y="457.1" width="3" height="1.0" fill="#089981"/><rect x="1430" y="454.5" width="1" height="6.4" fill="#f23645"/><rect x="1429" y="456.4" width="3" height="3.5" fill="#f23645"/><rect x="1435" y="457.7" width="1" height="10.3" fill="#f23645"/><rect x="1434" y="459.0" width="3" height="5.8" fill="#f23645"/><rect x="1439" y="457.7" width="1" height="28.0" fill="#f23645"/><rect x="1438" y="464.2" width="3" height="6.8" fill="#f23645"/><rect x="1444" y="468.0" width="1" height="23.9" fill="#f23645"/><rect x="1443" y="470.0" width="3" height="15.5" fill="#f23645"/><rect x="1449" y="475.1" width="1" height="51.6" fill="#f23645"/><rect x="1448" y="485.4" width="3" height="38.4" fill="#f23645"/><rect x="1454" y="511.2" width="1" height="18.7" fill="#089981"/><rect x="1453" y="516.1" width="3" height="7.7" fill="#089981"/><rect x="1459" y="515.1" width="1" height="11.9" fill="#f23645"/><rect x="1458" y="516.1" width="3" height="5.7" fill="#f23645"/><rect x="1464" y="515.1" width="1" height="20.0" fill="#f23645"/><rect x="1463" y="521.3" width="3" height="8.6" fill="#f23645"/><rect x="1469" y="516.1" width="1" height="17.0" fill="#089981"/><rect x="1468" y="528.2" width="3" height="1.0" fill="#089981"/><rect x="1473" y="518.3" width="1" height="21.5" fill="#f23645"/><rect x="1472" y="528.2" width="3" height="5.5" fill="#f23645"/><rect x="1478" y="532.5" width="1" height="11.2" fill="#f23645"/><rect x="1477" y="532.5" width="3" height="3.2" fill="#f23645"/><rect x="1483" y="522.2" width="1" height="13.5" fill="#089981"/><rect x="1482" y="532.5" width="3" height="3.2" fill="#089981"/><rect x="1488" y="521.3" width="1" height="16.4" fill="#089981"/><rect x="1487" y="528.2" width="3" height="4.9" fill="#089981"/><rect x="1493" y="521.3" width="1" height="15.7" fill="#089981"/><rect x="1492" y="522.8" width="3" height="7.1" fill="#089981"/><rect x="1498" y="519.2" width="1" height="12.9" fill="#089981"/><rect x="1497" y="521.3" width="3" height="3.5" fill="#089981"/><rect x="1502" y="518.3" width="1" height="7.3" fill="#f23645"/><rect x="1501" y="521.3" width="3" height="4.4" fill="#f23645"/><rect x="1507" y="522.2" width="1" height="12.5" fill="#f23645"/><rect x="1506" y="525.1" width="3" height="2.8" fill="#f23645"/><rect x="1512" y="525.4" width="1" height="6.4" fill="#089981"/><rect x="1511" y="527.0" width="3" height="1.0" fill="#089981"/><rect x="1517" y="522.2" width="1" height="11.0" fill="#f23645"/><rect x="1516" y="528.2" width="3" height="2.3" fill="#f23645"/><rect x="1522" y="530.3" width="1" height="16.4" fill="#f23645"/><rect x="1521" y="530.3" width="3" height="2.6" fill="#f23645"/><rect x="1527" y="522.2" width="1" height="16.8" fill="#089981"/><rect x="1526" y="532.1" width="3" height="1.0" fill="#089981"/><rect x="1532" y="523.1" width="1" height="8.8" fill="#089981"/><rect x="1531" y="526.1" width="3" height="5.8" fill="#089981"/><rect x="1536" y="520.2" width="1" height="10.6" fill="#f23645"/><rect x="1535" y="525.4" width="3" height="2.6" fill="#f23645"/><rect x="1541" y="520.2" width="1" height="10.6" fill="#089981"/><rect x="1540" y="520.2" width="3" height="7.7" fill="#089981"/><rect x="1546" y="515.4" width="1" height="9.4" fill="#089981"/><rect x="1545" y="519.0" width="3" height="2.3" fill="#089981"/><rect x="1551" y="512.3" width="1" height="7.3" fill="#089981"/><rect x="1550" y="513.5" width="3" height="6.1" fill="#089981"/></g>
<path d="M10 513.5H1763" stroke="#089981" stroke-width="1" stroke-dasharray="1 2"/>
<svg x="0" y="0" width="1835" height="720">
<path d="M1764 71.5H1805a2 2 0 0 1 2 2V86.5a2 2 0 0 1 -2 2H1764Z" fill="#2962ff"/><text x="1772" y="84.5" font-size="12" font-weight="bold" fill="#fff">2.768</text>
<path d="M1764 155.5H1805a2 2 0 0 1 2 2V170.5a2 2 0 0 1 -2 2H1764Z" fill="#2962ff"/><text x="1772" y="168.5" font-size="12" font-weight="bold" fill="#fff">2.666</text>
<path d="M1764 254.5H1805a2 2 0 0 1 2 2V269.5a2 2 0 0 1 -2 2H1764Z" fill="#2962ff"/><text x="1772" y="267.5" font-size="12" font-weight="bold" fill="#fff">2.546</text>
<path d="M1764 320.5H1805a2 2 0 0 1 2 2V335.5a2 2 0 0 1 -2 2H1764Z" fill="#2962ff"/><text x="1772" y="333.5" font-size="12" font-weight="bold" fill="#fff">2.466</text>
<path d="M1764 476.5H1805a2 2 0 0 1 2 2V491.5a2 2 0 0 1 -2 2H1764Z" fill="#2962ff"/><text x="1772" y="489.5" font-size="12" font-weight="bold" fill="#fff">2.276</text>
<path d="M1764 545.5H1805a2 2 0 0 1 2 2V560.5a2 2 0 0 1 -2 2H1764Z" fill="#2962ff"/><text x="1772" y="558.5" font-size="12" font-weight="bold" fill="#fff">2.192</text>
<path d="M1764 589.5H1805a2 2 0 0 1 2 2V604.5a2 2 0 0 1 -2 2H1764Z" fill="#2962ff"/><text x="1772" y="602.5" font-size="12" font-weight="bold" fill="#fff">2.139</text>
<path d="M1764 703.5H1805a2 2 0 0 1 2 2V718.5a2 2 0 0 1 -2 2H1764Z" fill="#2962ff"/><text x="1772" y="716.5" font-size="12" font-weight="bold" fill="#fff">2.000</text>
</svg>
<path d="M10 720.5H1825" stroke="#e0e3eb" stroke-width="1"/>
<path d="M1764 505H1805a2 2 0 0 1 2 2V534a2 2 0 0 1 -2 2H1764Z" fill="#089981"/><text x="1772" y="518" font-size="12" font-weight="bold" fill="#fff">2.242</text><text x="1772" y="531.5" font-size="12" font-weight="bold" fill="#fff" fill-opacity="0.75">46:16</text>
<rect x="1284" y="477" width="21" height="21" rx="3" fill="#3d84c6"/><path d="M1294.5 481L1301 488.7H1297V494H1292V488.7H1288Z" fill="#fff"/>
<svg x="0" y="0" width="1835" height="720"><rect x="1279" y="703" width="21" height="21" rx="3" fill="#3d84c6"/><path d="M1289.5 707L1296 714.7H1292V720H1287V714.7H1283Z" fill="#fff"/></svg>
<circle cx="1551.5" cy="707.4" r="9.8" fill="#fff" stroke="#9c27b0" stroke-width="1.5"/><path d="M1554.9 702.1L1547.2 707.9H1551.6L1548.1 712.9L1555.9 706.9H1551.6Z" fill="#9c27b0" stroke="#9c27b0" stroke-width="0.5" stroke-linejoin="round"/>
<g font-size="12" fill="#131722"><text x="18.5" y="46" textLength="155.5" lengthAdjust="spacing">ICP / TetherUS · 1h · Binance</text><text x="182.6" y="46">O</text><text x="191.1" y="46" fill="#089981" textLength="28.2">2.235</text><text x="227.6" y="46">H</text><text x="236" y="46" fill="#089981" textLength="28.3">2.243</text><text x="272.8" y="46">L</text><text x="278.5" y="46" fill="#089981" textLength="28.9">2.235</text><text x="315.1" y="46">C</text><text x="322.3" y="46" fill="#089981" textLength="28.9">2.242</text><text x="359" y="46" fill="#089981" textLength="84.5" lengthAdjust="spacing">+0.007 (+0.31%)</text></g>
<rect x="10" y="753" width="1753" height="60" fill="#7e57c2" fill-opacity="0.1"/>
<path d="M10 753.5H1763M10 813.5H1763" stroke="#787b86" stroke-width="1" stroke-dasharray="5 6"/>
<path d="M10 783.5H1763" stroke="#787b86" stroke-width="1" stroke-dasharray="1 3"/>
<polyline points="9.5,755.9 14.5,767.5 19.5,781.1 24.5,787.4 28.5,789.3 33.5,768 38.5,759.8 43.5,776.7 48.5,794.6 53.5,802.4 58.5,798.5 62.5,804.3 67.5,808.2 72.5,803.6 77.5,813.8 82.5,821.6 87.5,777.0 91.5,799.1 96.5,756.9 101.5,790.1 106.5,763.4 111.5,752.7 116.5,778.9 121.5,790.8 125.5,785.8 130.5,779.4 135.5,762.4 140.5,741.2 145.5,742.1 150.5,739.5 155.5,757.1 159.5,771.7 164.5,779.8 169.5,768.5 174.5,770.4 179.5,782.0 184.5,765.2 188.5,793.0 193.5,811.6 198.5,779.2 203.5,760.7 208.5,754.5 213.5,747.8 218.5,735.6 222.5,753.0 227.5,739.7 232.5,749.6 237.5,751.5 242.5,733.9 247.5,756.9 251.5,777.3 256.5,798.8 261.5,796.7 266.5,816.1 271.5,808.6 276.5,816.1 281.5,801.0 285.5,799.9 290.5,803.4 295.5,825.3 300.5,821.3 305.5,810.9 310.5,804.1 315.5,799.8 319.5,775.9 324.5,763.0 329.5,810.3 334.5,778.7 339.5,789.7 344.5,807.7 348.5,830.3 353.5,827.3 358.5,811.3 363.5,799.3 368.5,791.1 373.5,780.2 378.5,773.9 382.5,768.3 387.5,758.3 392.5,770.7 397.5,758.9 402.5,773.0 407.5,827.4 411.5,826.0 416.5,831.7 421.5,828.2 426.5,822.3 431.5,829.8 436.5,819.7 441.5,824.7 445.5,828.1 450.5,821.7 455.5,818.3 460.5,826.7 465.5,823.8 470.5,825.3 475.5,821.2 479.5,831.6 484.5,802.6 489.5,806.3 494.5,804.8 499.5,817.3 504.5,829.1 508.5,818.2 513.5,786.8 518.5,813.5 523.5,808.8 528.5,833.0 533.5,799.3 538.5,809.4 542.5,818.5 547.5,825.7 552.5,799.5 557.5,807.6 562.5,796.8 567.5,804.3 571.5,791.5 576.5,797.5 581.5,789.3 586.5,746.4 591.5,741.1 596.5,740.3 601.5,736.7 605.5,745.5 610.5,745.0 615.5,747.1 620.5,776.1 625.5,770.4 630.5,766.2 635.5,761.9 639.5,763.1 644.5,782.3 649.5,792.3 654.5,826.5 659.5,814.1 664.5,813.7 668.5,789.4 673.5,811.2 678.5,808.6 683.5,814.6 688.5,788.6 693.5,778.4 698.5,791.2 702.5,782.4 707.5,783.8 712.5,753.2 717.5,764.9 722.5,771.8 727.5,756.9 732.5,754.6 736.5,762.0 741.5,739.1 746.5,761.9 751.5,789.9 756.5,800.4 761.5,822.5 765.5,807.7 770.5,816.2 775.5,735.0 780.5,783.5 785.5,762.7 790.5,787.5 795.5,797.4 799.5,768.6 804.5,787.5 809.5,800.8 814.5,817.7 819.5,802.9 824.5,808.2 828.5,804.7 833.5,801.4 838.5,797.0 843.5,808.7 848.5,807.1 853.5,816.8 858.5,815.7 862.5,815.2 867.5,833.0 872.5,830.2 877.5,820.7 882.5,817.0 887.5,828.1 892.5,822.5 896.5,823.9 901.5,821.9 906.5,821.1 911.5,818.8 916.5,822.5 921.5,813.7 925.5,799.2 930.5,810.4 935.5,803.6 940.5,801.2 945.5,773.1 950.5,776.4 955.5,744.8 959.5,751.3 964.5,791.8 969.5,807.3 974.5,816.7 979.5,804.2 984.5,812.2 988.5,775.4 993.5,759.9 998.5,745.5 1003.5,744.6 1008.5,774.2 1013.5,770.6 1018.5,764.9 1022.5,752.5 1027.5,770.9 1032.5,754.9 1037.5,760.5 1042.5,772.8 1047.5,761.3 1052.5,775.4 1056.5,817.2 1061.5,819.9 1066.5,809.5 1071.5,807.7 1076.5,801.1 1081.5,808.0 1085.5,767.0 1090.5,765.6 1095.5,751.6 1100.5,760.0 1105.5,765.9 1110.5,781.9 1115.5,821.6 1119.5,803.1 1124.5,832.6 1129.5,825.0 1134.5,826.5 1139.5,819.4 1144.5,797.4 1148.5,739.5 1153.5,748.4 1158.5,762.9 1163.5,760.6 1168.5,771.1 1173.5,757.3 1178.5,766.4 1182.5,771.4 1187.5,774.7 1192.5,781.4 1197.5,799.3 1202.5,782.9 1207.5,784.1 1212.5,764.3 1216.5,744.5 1221.5,750.5 1226.5,746.2 1231.5,757.8 1236.5,755.9 1241.5,813.4 1245.5,790.2 1250.5,799.1 1255.5,771.9 1260.5,773.4 1265.5,802.4 1270.5,807.1 1275.5,778.3 1279.5,769.8 1284.5,768.4 1289.5,789.8 1294.5,793.7 1299.5,800.8 1304.5,827.2 1308.5,833.0 1313.5,824.5 1318.5,816.4 1323.5,823.0 1328.5,827.8 1333.5,828.4 1338.5,833.0 1342.5,819.7 1347.5,814.1 1352.5,817.2 1357.5,833.0 1362.5,811.7 1367.5,823.1 1372.5,819.8 1376.5,815.3 1381.5,792.6 1386.5,789.9 1391.5,785.7 1396.5,772.0 1401.5,761.2 1405.5,745.1 1410.5,743.2 1415.5,756.6 1420.5,761.8 1425.5,758.9 1430.5,767.0 1435.5,776.9 1439.5,790.6 1444.5,819.8 1449.5,829.6 1454.5,817.1 1459.5,823.7 1464.5,827.4 1469.5,825.6 1473.5,826.7 1478.5,824.8 1483.5,821.1 1488.5,816.7 1493.5,809.6 1498.5,806.9 1502.5,812.0 1507.5,812.2 1512.5,808.6 1517.5,792.5 1522.5,789.3 1527.5,786.9 1532.5,765.5 1536.5,767.1 1541.5,739.8 1546.5,744.5 1551.5,735.4" fill="none" stroke="#7e57c2" stroke-width="1"/>
<text x="18" y="740" font-size="12" fill="#131722">Williams %R (14, close) <tspan fill="#7e57c2">−2.38</tspan></text>
<path d="M1764 727H1805a2 2 0 0 1 2 2V742a2 2 0 0 1 -2 2H1764Z" fill="#7e57c2"/><text x="1772" y="740" font-size="12" font-weight="bold" fill="#fff">−2.38</text>
<text x="1772" y="777" font-size="12" fill="#131722">−40.00</text>
<text x="1772" y="817" font-size="12" fill="#131722">−80.00</text>
<text x="121.2" y="861" font-size="12" fill="#131722" text-anchor="middle">16</text><text x="237.6" y="861" font-size="12" fill="#131722" text-anchor="middle">17</text><text x="353.9" y="861" font-size="12" fill="#131722" text-anchor="middle">18</text><text x="470.3" y="861" font-size="12" fill="#131722" text-anchor="middle">19</text><text x="586.6" y="861" font-size="12" fill="#131722" text-anchor="middle">20</text><text x="703.0" y="861" font-size="12" fill="#131722" text-anchor="middle">21</text><text x="819.4" y="861" font-size="12" fill="#131722" text-anchor="middle">22</text><text x="935.7" y="861" font-size="12" fill="#131722" text-anchor="middle">23</text><text x="1052.1" y="861" font-size="12" fill="#131722" text-anchor="middle">24</text><text x="1168.4" y="861" font-size="12" fill="#131722" text-anchor="middle">25</text><text x="1284.8" y="861" font-size="12" fill="#131722" text-anchor="middle">26</text><text x="1401.2" y="861" font-size="12" fill="#131722" text-anchor="middle">27</text><text x="1517.5" y="861" font-size="12" fill="#131722" text-anchor="middle">28</text><text x="1633.9" y="861" font-size="12" fill="#131722" text-anchor="middle">29</text><text x="1750.2" y="861" font-size="12" fill="#131722" text-anchor="middle">30</text>
<g fill="#131313"><path d="M12 893H24V908H17.7V898.6H12Z"/><circle cx="29.3" cy="895.9" r="2.9"/><path d="M34.8 893H41.7L36.3 908H29Z"/></g>
<text x="49" y="908" font-size="21.5" font-weight="bold" fill="#131313" textLength="121" lengthAdjust="spacingAndGlyphs">TradingView</text>
</svg></body></html>
